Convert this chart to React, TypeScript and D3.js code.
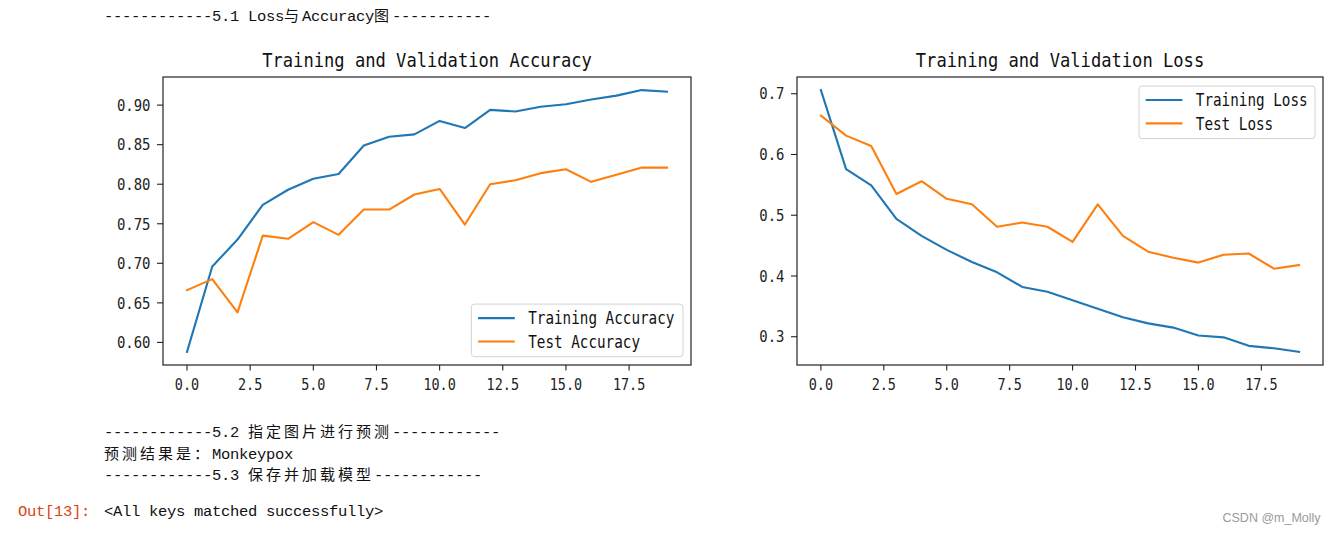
import React from 'react';
import * as d3 from 'd3';

const epochs = [0, 1, 2, 3, 4, 5, 6, 7, 8, 9, 10, 11, 12, 13, 14, 15, 16, 17, 18, 19];
const trainAcc = [0.588, 0.696, 0.730, 0.774, 0.793, 0.807, 0.813, 0.849, 0.860, 0.863, 0.880, 0.871, 0.894, 0.892, 0.898, 0.901, 0.907, 0.912, 0.919, 0.917];
const testAcc = [0.666, 0.680, 0.638, 0.735, 0.731, 0.752, 0.736, 0.768, 0.768, 0.787, 0.794, 0.749, 0.800, 0.805, 0.814, 0.819, 0.803, 0.812, 0.821, 0.821];
const trainLoss = [0.706, 0.576, 0.549, 0.494, 0.466, 0.443, 0.423, 0.406, 0.382, 0.374, 0.360, 0.346, 0.332, 0.322, 0.315, 0.302, 0.299, 0.285, 0.281, 0.275];
const testLoss = [0.664, 0.631, 0.614, 0.535, 0.556, 0.527, 0.518, 0.481, 0.488, 0.481, 0.456, 0.518, 0.466, 0.440, 0.430, 0.422, 0.435, 0.437, 0.412, 0.418];

const accTicks = [0.6, 0.65, 0.7, 0.75, 0.8, 0.85, 0.9];
const lossTicks = [0.3, 0.4, 0.5, 0.6, 0.7];
const xTicks = [0, 2.5, 5, 7.5, 10, 12.5, 15, 17.5];

const accTitle = 'Training and Validation Accuracy';
const lossTitle = 'Training and Validation Loss';
const accLabels = ['Training Accuracy', 'Test Accuracy'];
const lossLabels = ['Training Loss', 'Test Loss'];

const textLines = [
  '------------5.1 Loss与Accuracy图-----------',
  '------------5.2 指定图片进行预测------------',
  '预测结果是：Monkeypox',
  '------------5.3 保存并加载模型------------',
];
const outPrompt = 'Out[13]:';
const outText = '<All keys matched successfully>';
const watermark = 'CSDN @m_Molly';

const BLUE = '#1f77b4';
const ORANGE = '#ff7f0e';
const AX_FONT = "'DejaVu Sans Mono', monospace";

function MixedText({ x, y, text, color }: { x: number; y: number; text: string; color: string }) {
  const parts: { s: string; cjk: boolean }[] = [];
  for (const ch of text) {
    const cjk = /[\u3000-\u9fff\uff00-\uffef]/.test(ch);
    const last = parts[parts.length - 1];
    if (last && last.cjk === cjk) last.s += ch;
    else parts.push({ s: ch, cjk });
  }
  return (
    <text x={x} y={y} fill={color} fontFamily="'Liberation Mono', monospace" fontSize={15.5}>
      {parts.map((p, i) =>
        p.cjk ? (
          <tspan key={i} fontFamily="'Noto Sans CJK SC', sans-serif" fontSize={15} letterSpacing={3}>{p.s}</tspan>
        ) : (
          <tspan key={i} fontFamily="'Liberation Mono', monospace" fontSize={15.5} letterSpacing={-0.3}>{p.s}</tspan>
        )
      )}
    </text>
  );
}

type Series = { values: number[]; color: string; label: string };

function Panel({ left, right, top, bottom, title, series, yTicks, yFmt, legendTop }: {
  left: number; right: number; top: number; bottom: number; title: string; series: Series[];
  yTicks: number[]; yFmt: string; legendTop: boolean;
}) {
  const x = d3.scaleLinear().domain([-0.95, 19.95]).range([left, right]);
  const all = series.flatMap((s) => s.values);
  const [mn, mx] = d3.extent(all) as [number, number];
  const pad = (mx - mn) * 0.05;
  const y = d3.scaleLinear().domain([mn - pad, mx + pad]).range([bottom, top]);
  const line = d3.line<number>().x((_, i) => x(epochs[i])).y((d) => y(d));
  const yf = d3.format(yFmt);
  const xf = d3.format('.1f');

  const legW = legendTop ? 176 : 211.6;
  const legH = 52.6;
  const legX = right - 8 - legW;
  const legY = legendTop ? top + 9 : bottom - 8.3 - legH;

  return (
    <g>
      <text x={(left + right) / 2} y={top - 10.5} textAnchor="middle" fontFamily={AX_FONT} fontSize={19} fill="#111"
        textLength={title.length * 10.3} lengthAdjust="spacingAndGlyphs">{title}</text>
      {series.map((s, i) => (
        <path key={i} d={line(s.values) || ''} fill="none" stroke={s.color} strokeWidth={2.1} strokeLinejoin="round" strokeLinecap="square" />
      ))}
      <rect x={left} y={top} width={right - left} height={bottom - top} fill="none" stroke="#222" strokeWidth={1.2} />
      {yTicks.map((t) => {
        const s = yf(t);
        return (
          <g key={'y' + t}>
            <line x1={left - 6} x2={left} y1={y(t)} y2={y(t)} stroke="#222" strokeWidth={1.1} />
            <text x={left - 12.5} y={y(t)} dy="0.36em" textAnchor="end" fontFamily={AX_FONT} fontSize={16} fill="#222"
              textLength={s.length * 8.4} lengthAdjust="spacingAndGlyphs">{s}</text>
          </g>
        );
      })}
      {xTicks.map((t) => {
        const s = xf(t);
        return (
          <g key={'x' + t}>
            <line x1={x(t)} x2={x(t)} y1={bottom} y2={bottom + 5.5} stroke="#222" strokeWidth={1.1} />
            <text x={x(t)} y={bottom + 19.5} dy="0.36em" textAnchor="middle" fontFamily={AX_FONT} fontSize={16} fill="#222"
              textLength={s.length * 8.1} lengthAdjust="spacingAndGlyphs">{s}</text>
          </g>
        );
      })}
      <rect x={legX} y={legY} width={legW} height={legH} rx={3} ry={3} fill="#fff" fillOpacity={0.8} stroke="#d3d3d3" strokeWidth={1} />
      {series.map((s, i) => {
        const cy = legY + 14 + i * 23.4;
        return (
          <g key={'l' + i}>
            <line x1={legX + 6.7} x2={legX + 43.4} y1={cy} y2={cy} stroke={s.color} strokeWidth={2.1} />
            <text x={legX + 56.8} y={cy} dy="0.36em" fontFamily={AX_FONT} fontSize={17} fill="#111"
              textLength={s.label.length * 8.6} lengthAdjust="spacingAndGlyphs">{s.label}</text>
          </g>
        );
      })}
    </g>
  );
}

export default function App() {
  return (
    <svg width={1333} height={533} style={{ position: 'absolute', left: 0, top: 0, background: '#fff' }}>
      <rect x={0} y={0} width={1333} height={533} fill="#fff" />
      <MixedText x={104} y={20.7} text={textLines[0]} color="#111" />
      <Panel left={163} right={691} top={77} bottom={365} title={accTitle}
        series={[{ values: trainAcc, color: BLUE, label: accLabels[0] }, { values: testAcc, color: ORANGE, label: accLabels[1] }]}
        yTicks={accTicks} yFmt=".2f" legendTop={false} />
      <Panel left={797} right={1323} top={77} bottom={365} title={lossTitle}
        series={[{ values: trainLoss, color: BLUE, label: lossLabels[0] }, { values: testLoss, color: ORANGE, label: lossLabels[1] }]}
        yTicks={lossTicks} yFmt=".1f" legendTop={true} />
      <MixedText x={104} y={437} text={textLines[1]} color="#111" />
      <MixedText x={104} y={459} text={textLines[2]} color="#111" />
      <MixedText x={104} y={480} text={textLines[3]} color="#111" />
      <MixedText x={18} y={516} text={outPrompt} color="#D84315" />
      <MixedText x={104} y={516} text={outText} color="#111" />
      <text x={1222.5} y={522} fontFamily="'Liberation Sans', Arial, sans-serif" fontSize={12.5} fill="#9a9a9a">{watermark}</text>
    </svg>
  );
}
